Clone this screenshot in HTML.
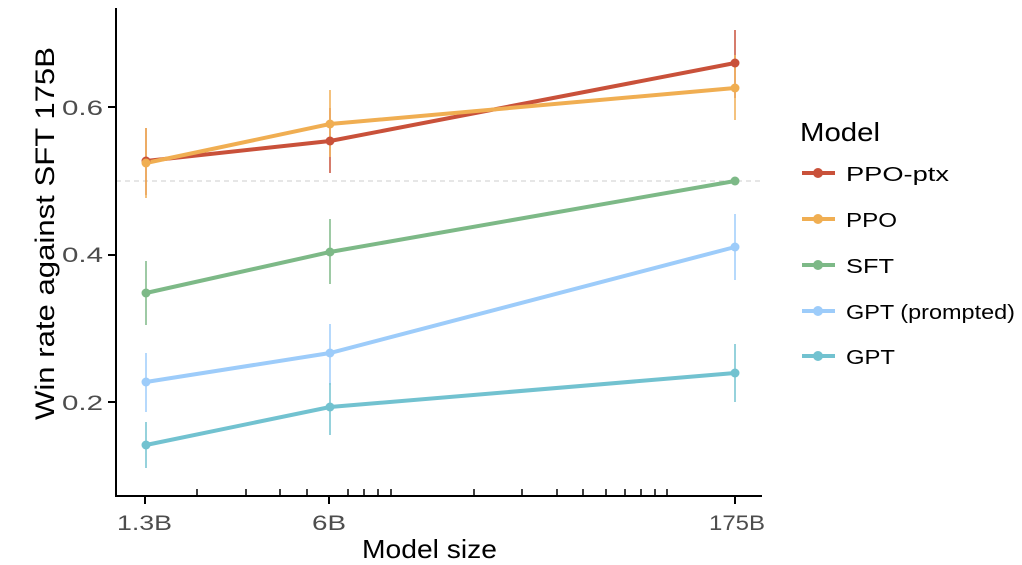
<html><body style="margin:0;background:#fff">
<svg width="1022" height="565" xmlns="http://www.w3.org/2000/svg" font-family="Liberation Sans, sans-serif">
<rect width="1022" height="565" fill="#fff"/>
<line x1="116" y1="181" x2="762" y2="181" stroke="#ccc" stroke-width="1" stroke-dasharray="5,4"/>
<g stroke-width="1.5">
<line x1="146" y1="128" x2="146" y2="195" stroke="#c9513a"/>
<line x1="330" y1="108" x2="330" y2="173" stroke="#c9513a"/>
<line x1="735" y1="30" x2="735" y2="98" stroke="#c9513a"/>
<line x1="146" y1="128" x2="146" y2="198" stroke="#f0ae52"/>
<line x1="330" y1="90" x2="330" y2="157" stroke="#f0ae52"/>
<line x1="735" y1="55" x2="735" y2="120" stroke="#f0ae52"/>
<line x1="146" y1="261" x2="146" y2="325" stroke="#7db987"/>
<line x1="330" y1="219" x2="330" y2="284" stroke="#7db987"/>
<line x1="146" y1="353" x2="146" y2="412" stroke="#9dccfa"/>
<line x1="330" y1="324" x2="330" y2="385" stroke="#9dccfa"/>
<line x1="735" y1="214" x2="735" y2="280" stroke="#9dccfa"/>
<line x1="146" y1="422" x2="146" y2="468" stroke="#72c2d0"/>
<line x1="330" y1="383" x2="330" y2="435" stroke="#72c2d0"/>
<line x1="735" y1="344" x2="735" y2="402" stroke="#72c2d0"/>
</g>
<g stroke-width="4" fill="none">
<polyline points="146,161 330,141 735,63" stroke="#c9513a"/>
<polyline points="146,163 330,124 735,88" stroke="#f0ae52"/>
<polyline points="146,293 330,252 735,181" stroke="#7db987"/>
<polyline points="146,382 330,353 735,247" stroke="#9dccfa"/>
<polyline points="146,445 330,407 735,373" stroke="#72c2d0"/>
</g>
<g fill="#c9513a"><circle cx="146" cy="161" r="4.5"/><circle cx="330" cy="141" r="4.5"/><circle cx="735" cy="63" r="4.5"/></g>
<g fill="#f0ae52"><circle cx="146" cy="163" r="4.5"/><circle cx="330" cy="124" r="4.5"/><circle cx="735" cy="88" r="4.5"/></g>
<g fill="#7db987"><circle cx="146" cy="293" r="4.5"/><circle cx="330" cy="252" r="4.5"/><circle cx="735" cy="181" r="4.5"/></g>
<g fill="#9dccfa"><circle cx="146" cy="382" r="4.5"/><circle cx="330" cy="353" r="4.5"/><circle cx="735" cy="247" r="4.5"/></g>
<g fill="#72c2d0"><circle cx="146" cy="445" r="4.5"/><circle cx="330" cy="407" r="4.5"/><circle cx="735" cy="373" r="4.5"/></g>
<g stroke="#000" stroke-width="2" fill="none">
<polyline points="116,8 116,496 762,496"/>
<line x1="108" y1="107" x2="116" y2="107"/><line x1="108" y1="255" x2="116" y2="255"/><line x1="108" y1="402" x2="116" y2="402"/>
<line x1="145" y1="496" x2="145" y2="504"/><line x1="329" y1="496" x2="329" y2="504"/><line x1="735" y1="496" x2="735" y2="504"/>
</g>
<g stroke="#000" stroke-width="1.5">
<line x1="197" y1="496" x2="197" y2="489"/><line x1="246" y1="496" x2="246" y2="489"/><line x1="280" y1="496" x2="280" y2="489"/><line x1="307" y1="496" x2="307" y2="489"/><line x1="348" y1="496" x2="348" y2="489"/><line x1="364" y1="496" x2="364" y2="489"/><line x1="378" y1="496" x2="378" y2="489"/><line x1="391" y1="496" x2="391" y2="489"/><line x1="474" y1="496" x2="474" y2="489"/><line x1="522" y1="496" x2="522" y2="489"/><line x1="557" y1="496" x2="557" y2="489"/><line x1="583" y1="496" x2="583" y2="489"/><line x1="606" y1="496" x2="606" y2="489"/><line x1="625" y1="496" x2="625" y2="489"/><line x1="641" y1="496" x2="641" y2="489"/><line x1="655" y1="496" x2="655" y2="489"/><line x1="667" y1="496" x2="667" y2="489"/>
</g>
<g fill="#4d4d4d" font-size="21" lengthAdjust="spacingAndGlyphs">
<text x="62" y="115" textLength="41" lengthAdjust="spacingAndGlyphs">0.6</text><text x="62" y="262" textLength="41" lengthAdjust="spacingAndGlyphs">0.4</text><text x="62" y="410" textLength="41" lengthAdjust="spacingAndGlyphs">0.2</text>
<text x="117" y="530" textLength="55" lengthAdjust="spacingAndGlyphs">1.3B</text><text x="312" y="530" textLength="34" lengthAdjust="spacingAndGlyphs">6B</text><text x="709" y="530" textLength="56" lengthAdjust="spacingAndGlyphs">175B</text>
</g>
<text x="362" y="558" font-size="26" textLength="135" lengthAdjust="spacingAndGlyphs">Model size</text>
<text transform="translate(54,420) rotate(-90)" font-size="27" textLength="373" lengthAdjust="spacingAndGlyphs">Win rate against SFT 175B</text>
<text x="800" y="141" font-size="26" textLength="80" lengthAdjust="spacingAndGlyphs">Model</text>
<g stroke-width="4">
<line x1="802" y1="173" x2="835" y2="173" stroke="#c9513a"/><circle cx="818" cy="173" r="5" fill="#c9513a"/>
<line x1="802" y1="219" x2="835" y2="219" stroke="#f0ae52"/><circle cx="818" cy="219" r="5" fill="#f0ae52"/>
<line x1="802" y1="265" x2="835" y2="265" stroke="#7db987"/><circle cx="818" cy="265" r="5" fill="#7db987"/>
<line x1="802" y1="311" x2="835" y2="311" stroke="#9dccfa"/><circle cx="818" cy="311" r="5" fill="#9dccfa"/>
<line x1="802" y1="356" x2="835" y2="356" stroke="#72c2d0"/><circle cx="818" cy="356" r="5" fill="#72c2d0"/>
</g>
<g font-size="20" fill="#000">
<text x="846" y="181" textLength="103" lengthAdjust="spacingAndGlyphs">PPO-ptx</text><text x="846" y="227" textLength="51" lengthAdjust="spacingAndGlyphs">PPO</text><text x="846" y="273" textLength="48" lengthAdjust="spacingAndGlyphs">SFT</text><text x="846" y="319" textLength="169" lengthAdjust="spacingAndGlyphs">GPT (prompted)</text><text x="846" y="364" textLength="49" lengthAdjust="spacingAndGlyphs">GPT</text>
</g>
</svg>
</body></html>
